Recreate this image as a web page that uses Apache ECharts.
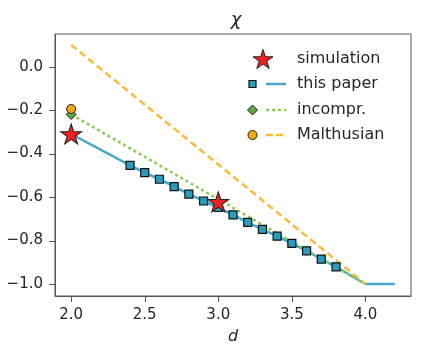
<!DOCTYPE html>
<html>
<head>
<meta charset="utf-8">
<script src="https://cdn.jsdelivr.net/npm/echarts@6/dist/echarts.min.js"></script>
<style>
html,body{margin:0;padding:0;background:#fff;}
#c{width:423px;height:355px;}
</style>
</head>
<body>
<div id="c"></div>
<script>
// ---- data ----
var xTicks = [2.0, 2.5, 3.0, 3.5, 4.0];
var yTicks = [-1.0, -0.8, -0.6, -0.4, -0.2, 0.0];
var legendNames = ['simulation', 'this paper', 'incompr.', 'Malthusian'];
var simulationD = [2.0, 3.0];
var simulationChi = [-0.31, -0.622];
var paperD = [2.4, 2.5, 2.6, 2.7, 2.8, 2.9, 3.0, 3.1, 3.2, 3.3, 3.4, 3.5, 3.6, 3.7, 3.8];
var paperChi = [-0.454, -0.488, -0.518, -0.552, -0.586, -0.618, -0.648, -0.682, -0.716, -0.749, -0.780, -0.813, -0.847, -0.885, -0.921];
var paperLineD = [2.0, 2.4, 2.5, 2.6, 2.7, 2.8, 2.9, 3.0, 3.1, 3.2, 3.3, 3.4, 3.5, 3.6, 3.7, 3.8, 4.0, 4.2];
var paperLineChi = [-0.31, -0.454, -0.488, -0.518, -0.552, -0.586, -0.618, -0.648, -0.682, -0.716, -0.749, -0.780, -0.813, -0.847, -0.885, -0.921, -1.0, -1.0];
var incomprLineD = [2.0, 4.0];
var incomprLineChi = [-0.22, -1.0];
var incomprPointD = [2.0];
var incomprPointChi = [-0.22];
var malthLineD = [2.0, 4.0];
var malthLineChi = [0.1, -1.0];
var malthPointD = [2.0];
var malthPointChi = [-0.195];

function zip(a, b) { return a.map(function (v, i) { return [v, b[i]]; }); }
function fmt(v) { return v.toFixed(1).replace('-', '\u2212'); }

var C_BLUE_LINE = '#45a8c9', C_BLUE_FILL = '#2b9cbc';
var C_GREEN_LINE = '#8acb5a', C_GREEN_FILL = '#5aa83e';
var C_ORANGE_LINE = '#f7bd3a', C_ORANGE_FILL = '#f2a90c';
var C_RED = '#ee2020';
var C_AXIS = '#555';
var FONT = 'DejaVu Sans';

function starPoints(cx, cy, r) {
  var pts = [], ri = r * 0.381966;
  for (var i = 0; i < 10; i++) {
    var a = -Math.PI / 2 + i * Math.PI / 5;
    var rr = (i % 2 === 0) ? r : ri;
    pts.push([cx + rr * Math.cos(a), cy + rr * Math.sin(a)]);
  }
  return pts;
}
function starPath() {
  var p = starPoints(0, 0, 10);
  return 'path://M' + p.map(function (q) { return q[0].toFixed(3) + ',' + q[1].toFixed(3); }).join('L') + 'Z';
}

var chart = echarts.init(document.getElementById('c'), null, { renderer: 'canvas' });

// legend drawn as graphic
var rowY = [59, 84, 110, 135];
var mx = 252.5, lx1 = 266, lx2 = 286, tx = 297;
var graphics = [];
graphics.push({ type: 'polygon', shape: { points: starPoints(263, rowY[0] + 1, 10.5) }, style: { fill: C_RED, stroke: '#222', lineWidth: 1 }, z: 100 });
graphics.push({ type: 'rect', shape: { x: mx - 3.5, y: rowY[1] - 3.5, width: 7, height: 7 }, style: { fill: C_BLUE_FILL, stroke: '#111', lineWidth: 1.2 }, z: 100 });
graphics.push({ type: 'line', shape: { x1: lx1, y1: rowY[1], x2: lx2, y2: rowY[1] }, style: { stroke: C_BLUE_LINE, lineWidth: 2.5 }, z: 100 });
graphics.push({ type: 'polygon', shape: { points: [[mx, rowY[2] - 5], [mx + 5, rowY[2]], [mx, rowY[2] + 5], [mx - 5, rowY[2]]] }, style: { fill: C_GREEN_FILL, stroke: '#222', lineWidth: 1 }, z: 100 });
graphics.push({ type: 'line', shape: { x1: lx1, y1: rowY[2], x2: lx2, y2: rowY[2] }, style: { stroke: C_GREEN_LINE, lineWidth: 2.5, lineDash: [3, 3] }, z: 100 });
graphics.push({ type: 'circle', shape: { cx: mx, cy: rowY[3], r: 4.5 }, style: { fill: C_ORANGE_FILL, stroke: '#222', lineWidth: 1 }, z: 100 });
graphics.push({ type: 'line', shape: { x1: lx1, y1: rowY[3], x2: lx2, y2: rowY[3] }, style: { stroke: C_ORANGE_LINE, lineWidth: 2.5, lineDash: [7, 3] }, z: 100 });
legendNames.forEach(function (n, i) {
  graphics.push({ type: 'text', style: { text: n, x: tx, y: rowY[i], verticalAlign: 'middle', font: '16px "' + FONT + '"', fill: '#262626' }, z: 100 });
});

var X_MIN = 1.89, X_MAX = 4.31, Y_MIN = -1.055, Y_MAX = 0.15;

var option = {
  backgroundColor: '#fff',
  animation: false,
  title: {
    text: '\u03c7', left: 231, top: 6, textAlign: 'center',
    textStyle: { fontFamily: FONT, fontStyle: 'italic', fontWeight: 'normal', fontSize: 18, color: '#262626' }
  },
  grid: { left: 55, right: 12, top: 34, bottom: 59, show: true, borderColor: C_AXIS, borderWidth: 1 },
  xAxis: {
    type: 'value', min: X_MIN, max: X_MAX,
    name: 'd', nameLocation: 'middle', nameGap: 33,
    nameTextStyle: { fontFamily: FONT, fontStyle: 'italic', fontSize: 16, color: '#262626' },
    axisLine: { show: true, onZero: false, lineStyle: { color: C_AXIS, width: 1 } },
    axisTick: { show: false },
    axisLabel: { margin: 12, fontFamily: FONT, fontSize: 15, color: '#262626', customValues: xTicks, formatter: function (v) { return fmt(v); } },
    splitLine: { show: false }
  },
  yAxis: {
    type: 'value', min: Y_MIN, max: Y_MAX,
    axisLine: { show: true, onZero: false, lineStyle: { color: C_AXIS, width: 1 } },
    axisTick: { show: false },
    axisLabel: { margin: 12, fontFamily: FONT, fontSize: 15, color: '#262626', customValues: yTicks, formatter: function (v) { return fmt(v); } },
    splitLine: { show: false }
  },
  graphic: graphics,
  series: [
    { type: 'line', name: 'this paper line', data: zip(paperLineD, paperLineChi), showSymbol: false, symbol: 'none',
      lineStyle: { color: C_BLUE_LINE, width: 2.5 }, z: 2 },
    { type: 'line', name: 'incompr. line', data: zip(incomprLineD, incomprLineChi), showSymbol: false, symbol: 'none',
      lineStyle: { color: C_GREEN_LINE, width: 2.5, type: [3, 3] }, z: 3 },
    { type: 'line', name: 'Malthusian line', data: zip(malthLineD, malthLineChi), showSymbol: false, symbol: 'none',
      lineStyle: { color: C_ORANGE_LINE, width: 2.5, type: [7, 4] }, z: 3 },
    { type: 'scatter', name: 'this paper', data: zip(paperD, paperChi), symbol: 'rect', symbolSize: 8,
      itemStyle: { color: C_BLUE_FILL, borderColor: '#111', borderWidth: 1.2, opacity: 1 }, z: 5 },
    { type: 'scatter', name: 'incompr.', data: zip(incomprPointD, incomprPointChi), symbol: 'diamond', symbolSize: [10, 10],
      itemStyle: { color: C_GREEN_FILL, borderColor: '#222', borderWidth: 1, opacity: 1 }, z: 6 },
    { type: 'scatter', name: 'Malthusian', data: zip(malthPointD, malthPointChi), symbol: 'circle', symbolSize: 9,
      itemStyle: { color: C_ORANGE_FILL, borderColor: '#222', borderWidth: 1, opacity: 1 }, z: 7 },
    { type: 'scatter', name: 'simulation', data: zip(simulationD, simulationChi), symbol: starPath(), symbolSize: [21, 20],
      itemStyle: { color: C_RED, borderColor: '#222', borderWidth: 1, opacity: 1 }, z: 8 }
  ]
};
chart.setOption(option);

// tick marks placed through the axes' own scales
var tickLen = 6;
var tickEls = [];
xTicks.forEach(function (v) {
  var p = chart.convertToPixel({ gridIndex: 0 }, [v, Y_MIN]);
  var x = Math.round(p[0]) + 0.5, y = Math.round(p[1]);
  tickEls.push({ type: 'line', shape: { x1: x, y1: y, x2: x, y2: y + tickLen }, style: { stroke: C_AXIS, lineWidth: 1 }, z: 50, silent: true });
});
yTicks.forEach(function (v) {
  var p = chart.convertToPixel({ gridIndex: 0 }, [X_MIN, v]);
  var x = Math.round(p[0]), y = Math.round(p[1]) + 0.5;
  tickEls.push({ type: 'line', shape: { x1: x, y1: y, x2: x - tickLen, y2: y }, style: { stroke: C_AXIS, lineWidth: 1 }, z: 50, silent: true });
});
chart.setOption({ graphic: graphics.concat(tickEls) });
</script>
</body>
</html>
